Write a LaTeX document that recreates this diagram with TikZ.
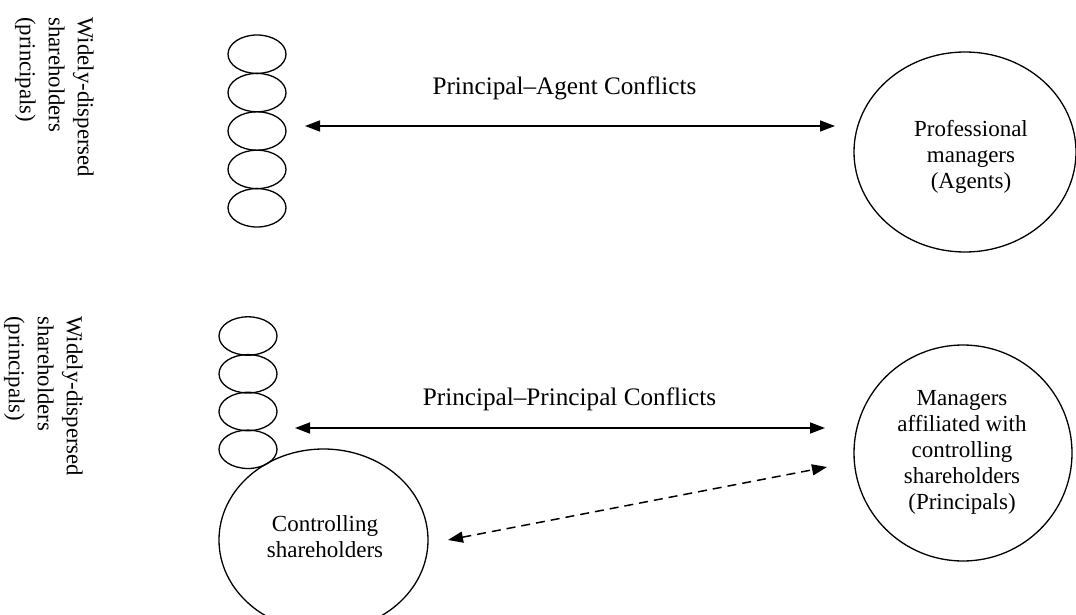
\documentclass[tikz,border=0pt]{standalone}
\usepackage{fontspec}
\setmainfont{Liberation Serif}
\usetikzlibrary{shapes.geometric,arrows.meta}

\begin{document}
\begin{tikzpicture}[x=1pt,y=-1pt,
  oval/.style={draw, ellipse, line width=1.3pt, inner sep=0pt},
  holder/.style={oval, minimum width=58pt, minimum height=38.4pt},
  conn/.style={line width=1.5pt,
    {Triangle[length=15pt,width=11pt]}-{Triangle[length=15pt,width=11pt]}},
  lbl/.style={anchor=base, inner sep=0pt, font=\fontsize{25.2}{29}\selectfont},
  body/.style={align=center, inner sep=0pt, font=\fontsize{23}{26}\selectfont},
  side/.style={rotate=-90, anchor=north west, align=left, inner sep=0pt,
    font=\fontsize{22.8}{29}\selectfont}]

\useasboundingbox[fill=white] (0,0) rectangle (1076,615);

% ---------- principal--agent model ----------
\node[side] (dispA) at (94,17) {Widely-dispersed\\shareholders\\(principals)};
\foreach \i/\y in {1/54.2,2/92.6,3/131,4/169.4,5/207.8}
  \node[holder] (ha\i) at (257,\y) {};
\node[oval, minimum width=222pt, minimum height=200pt] (agents) at (965,152) {};
\node[body] (agentsT) at (971,157) {Professional\\managers\\(Agents)};

\coordinate (paL) at (305,126);
\coordinate (paR) at (835,126);
\draw[conn] (paL) -- (paR);
\node[lbl] (paT) at (564.5,95) {Principal–Agent Conflicts};

% ---------- principal--principal model ----------
\node[side] (dispB) at (83,316) {Widely-dispersed\\shareholders\\(principals)};
\foreach \i/\y in {1/336,2/373.8,3/411.5,4/449.3}
  \node[holder] (hb\i) at (248,\y) {};
\node[oval, minimum width=209pt, minimum height=182pt] (ctrl) at (323.5,540) {};
\node[body] (ctrlT) at (325,537) {Controlling\\shareholders};
\node[oval, minimum width=218pt, minimum height=216pt] (mgrs) at (963,453) {};
\node[body] (mgrsT) at (962,452) {Managers\\affiliated with\\controlling\\shareholders\\(Principals)};

\coordinate (ppL) at (295,428);
\coordinate (ppR) at (825,428);
\draw[conn] (ppL) -- (ppR);
\node[lbl] (ppT) at (569.5,405) {Principal–Principal Conflicts};

\coordinate (ddL) at (448,540);
\coordinate (ddR) at (827,467);
\draw[conn, dash pattern=on 9pt off 6pt] (ddL) -- (ddR);
\end{tikzpicture}
\end{document}
